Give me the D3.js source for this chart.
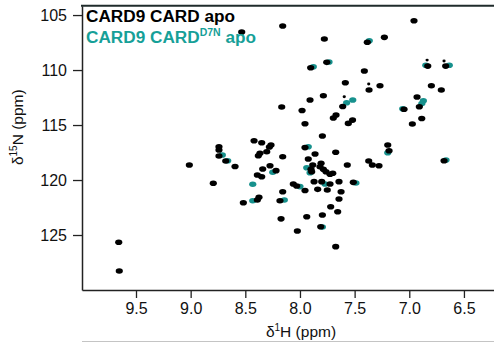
<!DOCTYPE html>
<html>
<head>
<meta charset="utf-8">
<script src="https://cdn.jsdelivr.net/npm/d3@7"></script>
<style>
  html, body { margin: 0; padding: 0; background: #fff; }
  svg { display: block; }
  text { font-family: "Liberation Sans", Arial, Helvetica, sans-serif; }
</style>
</head>
<body>
<div id="chart"></div>
<script>
// Tick labels
const xTicks = [9.5, 9.0, 8.5, 8.0, 7.5, 7.0, 6.5];
const yTicks = [105, 110, 115, 120, 125];

// CARD9 CARD apo peaks [1H ppm, 15N ppm]
const apoPeaks = [
  [8.158,106.00],[8.533,106.55],[6.957,105.52],[7.777,107.18],[7.384,107.48],[7.228,107.03],
  [7.902,109.79],[7.755,109.30],[7.411,110.09],[6.831,109.64],[6.667,109.64],[7.585,111.15],
  [7.368,111.82],[7.268,111.43],[6.798,111.43],[6.707,111.82],[7.908,112.73],[7.786,112.34],
  [7.609,113.32],[8.167,113.36],[7.981,113.68],[7.670,114.09],[7.695,114.36],
  [7.519,114.55],[7.558,114.85],[7.954,114.88],[7.795,116.00],[7.048,113.57],[6.929,112.45],
  [6.908,113.34],[6.886,114.41],[6.972,114.91],[8.420,116.43],[8.350,116.61],[8.265,116.82],
  [8.280,117.00],[8.366,117.57],[8.381,117.79],[8.304,117.43],[8.158,117.88],[7.954,117.05],
  [7.862,117.64],[7.673,117.48],[7.924,118.09],[7.807,118.48],[7.817,118.79],[7.786,119.03],
  [7.762,119.25],[7.725,119.48],[7.700,119.39],[7.883,118.64],[7.899,119.03],[7.893,119.25],
  [7.567,118.64],[7.371,118.27],[7.338,118.64],[7.277,118.70],[7.197,116.82],[7.185,117.34],
  [6.682,118.25],[8.274,118.70],[8.341,119.00],[8.219,119.15],[8.390,119.55],[8.350,119.70],
  [8.061,120.36],[8.030,120.55],[7.954,120.95],[7.871,120.15],[7.801,120.15],[7.838,120.85],
  [7.750,120.91],[7.725,120.36],[7.643,120.15],[7.512,120.21],[7.624,121.06],[7.643,121.73],
  [8.158,121.06],[8.183,121.88],[8.375,121.57],[8.390,121.82],[8.518,122.06],[7.719,122.43],
  [7.655,122.88],[7.795,123.18],[7.938,123.34],[8.173,123.53],[8.024,124.64],[7.810,124.25],
  [7.673,126.06],[9.658,125.66],[9.653,128.27],[8.741,116.97],[8.741,117.27],[8.741,117.82],
  [8.679,118.27],[8.594,118.77],[9.012,118.64],[8.793,120.30]
];
// weak apo peaks
const apoWeak = [[7.595,112.43],[6.837,109.09],[6.682,109.18],[7.371,111.27]];

// CARD9 CARD D7N apo peaks that are visibly shifted
const d7nPeaks = [
  [7.366,107.34],[7.878,109.70],[7.734,109.27],[6.849,109.57],[6.634,109.57],[7.573,112.97],
  [7.517,112.73],[7.060,113.52],[6.871,112.79],[6.885,113.05],[7.924,116.97],[8.710,117.73],
  [8.661,118.25],[7.938,118.88],[7.908,119.34],[8.249,119.30],[8.432,120.39],[7.771,120.36],
  [8.000,120.60],[8.143,121.82],[8.432,121.88],[7.197,117.52],[6.664,118.18],[7.488,120.27],
  [7.795,124.27]
];

const W = 494, H = 343;
const svg = d3.select("#chart").append("svg").attr("width", W).attr("height", H);

const x = d3.scaleLinear().domain([9.994, 6.225]).range([82, 494]);
const y = d3.scaleLinear().domain([104.15, 130]).range([5.7, 290]);

// peaks: D7N first (behind), then apo
const gPk = svg.append("g");
gPk.selectAll("ellipse.d7n").data(d7nPeaks).join("ellipse")
  .attr("class","d7n")
  .attr("cx", d => x(d[0])).attr("cy", d => y(d[1]))
  .attr("rx", 3.6).attr("ry", 2.8).attr("fill", "#17918d");
gPk.selectAll("ellipse.apo").data(apoPeaks).join("ellipse")
  .attr("class","apo")
  .attr("cx", d => x(d[0])).attr("cy", d => y(d[1]))
  .attr("rx", 3.6).attr("ry", 2.8).attr("fill", "#000");
gPk.selectAll("ellipse.weak").data(apoWeak).join("ellipse")
  .attr("class","weak")
  .attr("cx", d => x(d[0])).attr("cy", d => y(d[1]))
  .attr("rx", 1.6).attr("ry", 1.4).attr("fill", "#000");

// axes
const xAxis = d3.axisBottom(x).tickValues(xTicks).tickFormat(d3.format(".1f"))
  .tickSizeInner(8).tickSizeOuter(0).tickPadding(5);
const gx = svg.append("g").attr("transform", "translate(0,290)").call(xAxis);
gx.select(".domain").attr("stroke", "#222").attr("stroke-width", 1.5);
gx.selectAll(".tick line").attr("stroke", "#222").attr("stroke-width", 1.3);
gx.selectAll(".tick text").attr("font-size", 16).attr("fill", "#111")
  .attr("font-family", "'Liberation Sans', Arial, sans-serif");

const yAxis = d3.axisLeft(y).tickValues(yTicks)
  .tickSizeInner(9).tickSizeOuter(0).tickPadding(6);
const gy = svg.append("g").attr("transform", "translate(82,0)").call(yAxis);
gy.select(".domain").attr("stroke", "#222").attr("stroke-width", 1.5);
gy.selectAll(".tick line").attr("stroke", "#222").attr("stroke-width", 1.3);
gy.selectAll(".tick text").attr("font-size", 16).attr("fill", "#111")
  .attr("font-family", "'Liberation Sans', Arial, sans-serif");

// top frame line
svg.append("line").attr("x1", 81).attr("x2", W).attr("y1", 5.7).attr("y2", 5.7)
  .attr("stroke", "#1f2b2b").attr("stroke-width", 2);

// bottom light rule
svg.append("line").attr("x1", 82).attr("x2", W).attr("y1", 341.5).attr("y2", 341.5)
  .attr("stroke", "#c4c4c4").attr("stroke-width", 1.2);

// axis titles
const xt = svg.append("text").attr("x", 301).attr("y", 337).attr("text-anchor", "middle")
  .attr("font-size", 15.5).attr("fill", "#111");
xt.append("tspan").text("δ");
xt.append("tspan").attr("font-size", 10).attr("dy", -6).text("1");
xt.append("tspan").attr("dy", 6).text("H (ppm)");

const yt = svg.append("text").attr("transform", `translate(23,${y(115.2)}) rotate(-90)`)
  .attr("text-anchor", "middle").attr("font-size", 15.5).attr("fill", "#111");
yt.append("tspan").text("δ");
yt.append("tspan").attr("font-size", 10).attr("dy", -6).text("15");
yt.append("tspan").attr("dy", 6).text("N (ppm)");

// legend
svg.append("text").attr("x", 86).attr("y", 21.7).attr("font-size", 17.2)
  .attr("font-weight", "bold").attr("fill", "#000").text("CARD9 CARD apo");
const lg = svg.append("text").attr("x", 86).attr("y", 42.5).attr("font-size", 17.2)
  .attr("font-weight", "bold").attr("fill", "#16a098");
lg.append("tspan").text("CARD9 CARD");
lg.append("tspan").attr("font-size", 10.5).attr("dy", -6.5).text("D7N");
lg.append("tspan").attr("dy", 6.5).text(" apo");
</script>
</body>
</html>
